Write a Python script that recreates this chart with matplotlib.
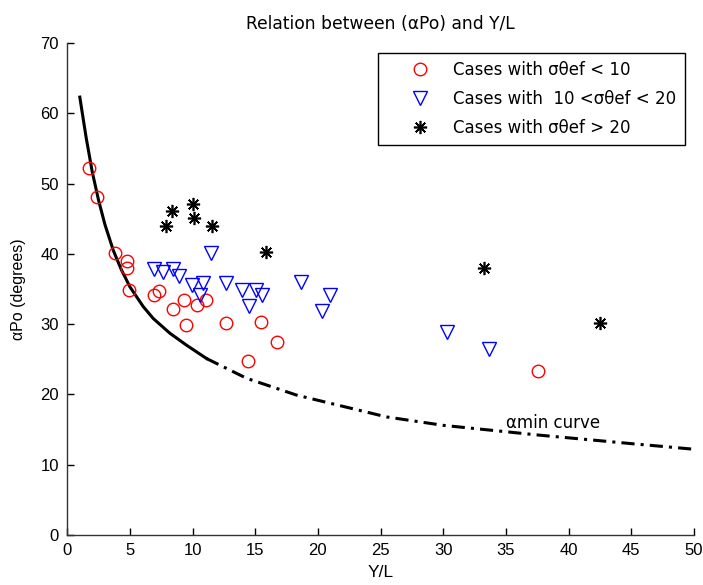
import matplotlib.pyplot as plt

plt.rcParams['font.family'] = ['DejaVu Sans']
narrow = ['Liberation Sans', 'DejaVu Sans']

# sigma theta ef < 10
red_x = [1.75, 2.34, 3.80, 4.74, 4.78, 4.92, 6.94, 7.31, 8.45, 9.33, 9.47, 10.37, 11.04, 12.68, 14.43, 15.45, 16.72, 37.54]
red_y = [52.2, 48.1, 40.1, 39.0, 38.0, 34.9, 34.1, 34.7, 32.1, 33.4, 29.9, 32.7, 33.4, 30.1, 24.8, 30.3, 27.4, 23.4]

# 10 < sigma theta ef < 20
blue_x = [6.94, 7.66, 8.45, 8.91, 11.44, 9.92, 10.85, 10.58, 12.66, 13.96, 15.02, 15.55, 14.51, 18.66, 21.00, 20.31, 30.30, 33.63]
blue_y = [37.8, 37.4, 37.9, 36.8, 40.1, 35.6, 35.9, 34.1, 35.9, 34.9, 34.9, 34.1, 32.6, 36.0, 34.1, 31.9, 28.9, 26.5]

# sigma theta ef > 20
star_x = [7.87, 8.33, 10.05, 10.13, 11.54, 15.82, 33.25, 42.48]
star_y = [43.9, 46.1, 47.1, 45.1, 44.0, 40.3, 38.0, 30.1]

# alpha min curve (solid part, then dash-dot part)
solid_x = [1.0, 1.5, 2.0, 2.5, 3.0, 3.67, 4.3, 5.0, 6.06, 6.86, 8.19, 9.52, 11.12]
solid_y = [62.3, 56.6, 51.6, 47.6, 44.2, 40.5, 37.8, 35.3, 32.5, 30.8, 28.7, 27.0, 25.1]
dash_x = [11.12, 14.3, 18.3, 25.47, 30.0, 37.7, 45.0, 50.0]
dash_y = [25.1, 22.3, 19.9, 16.8, 15.6, 14.2, 13.0, 12.2]

fig = plt.figure(figsize=(7.03, 5.85), dpi=100)
ax = fig.add_axes([0.0957, 0.0855, 0.8913, 0.841])

ax.plot(solid_x, solid_y, color='k', lw=2.2, solid_joinstyle='round')
ax.plot(dash_x, dash_y, color='k', lw=2.2, dashes=(4.3, 2, 1, 2))

ax.plot(red_x, red_y, 'o', mfc='none', mec='#ff0000', ms=9, mew=1,
        label='Cases with σθef < 10')
ax.plot(blue_x, blue_y, 'v', mfc='none', mec='#0000ff', ms=10.5, mew=1,
        label='Cases with  10 <σθef < 20')
ax.plot(star_x, star_y, marker=(8, 2, 0), ls='none', color='k', ms=9.5, mew=1.2,
        label='Cases with σθef > 20')

ax.text(35.0, 15.9, 'αmin curve', fontsize=12, va='center', ha='left')

ax.set_xlim(0, 50)
ax.set_ylim(0, 70)
ax.set_xticks(range(0, 51, 5))
ax.set_yticks(range(0, 71, 10))
ax.tick_params(direction='in', length=5, width=1, pad=6)
for lab in ax.get_xticklabels() + ax.get_yticklabels():
    lab.set_fontfamily(narrow)
    lab.set_fontsize(12)
for s in ['top', 'right']:
    ax.spines[s].set_visible(False)
for s in ['left', 'bottom']:
    ax.spines[s].set_linewidth(1)
    ax.spines[s].set_color('#333333')

ax.set_xlabel('Y/L', fontsize=12.5, family=narrow, labelpad=5)
ax.set_ylabel('αPo (degrees)', fontsize=11.5, family=narrow, labelpad=10)
ax.set_title('Relation between (αPo) and Y/L', fontsize=12.3, pad=10)

leg = ax.legend(loc='upper right', bbox_to_anchor=(0.9856, 0.980), fontsize=12,
                frameon=True, fancybox=False, edgecolor='k', framealpha=1,
                borderpad=0.5, labelspacing=0.65, handlelength=4.0,
                handletextpad=0.0, borderaxespad=0)
leg.get_frame().set_linewidth(1)

fig.savefig('out.png', dpi=100)
